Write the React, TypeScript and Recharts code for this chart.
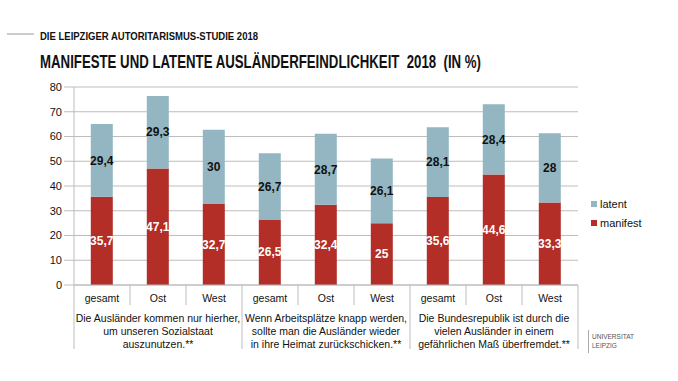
import React from "react";
import { BarChart, Bar, XAxis, YAxis, CartesianGrid, LabelList } from "recharts";

const categories = ["gesamt", "Ost", "West", "gesamt", "Ost", "West", "gesamt", "Ost", "West"];
const manifest = [35.7, 47.1, 32.7, 26.5, 32.4, 25, 35.6, 44.6, 33.3];
const latent = [29.4, 29.3, 30, 26.7, 28.7, 26.1, 28.1, 28.4, 28];
const groupTexts = [
  ["Die Ausländer kommen nur hierher,", "um unseren Sozialstaat", "auszunutzen.**"],
  ["Wenn Arbeitsplätze knapp werden,", "sollte man die Ausländer wieder", "in ihre Heimat zurückschicken.**"],
  ["Die Bundesrepublik ist durch die", "vielen Ausländer in einem", "gefährlichen Maß überfremdet.**"],
];
const yTicks = [0, 10, 20, 30, 40, 50, 60, 70, 80];

const data = categories.map((c, i) => ({ cat: c, manifest: manifest[i], latent: latent[i] }));

const RED = "#B22E27";
const BLUE = "#93B6C2";
const GRID = "#BDBDBD";
const FONT = "'Liberation Sans', Arial, sans-serif";

const fmt = (v: any) => String(v).replace(".", ",");

const CatTick = (props: any) => {
  const { x, y, payload, index } = props;
  const half = payload && payload.offset ? payload.offset : 28;
  const i = index ?? payload.index;
  const els: any[] = [];
  const left = x - half;
  const isGroupStart = i % 3 === 0;
  els.push(
    <line key="l" x1={left} x2={left} y1={y} y2={isGroupStart ? y + 64 : y + 20} stroke={GRID} strokeWidth={1} />
  );
  if (i === categories.length - 1) {
    els.push(<line key="r" x1={x + half} x2={x + half} y1={y} y2={y + 64} stroke={GRID} strokeWidth={1} />);
  }
  els.push(
    <text key="t" x={x} y={y + 17} textAnchor="middle" fontSize={10.5} fill="#111" fontFamily={FONT}>
      {payload.value}
    </text>
  );
  if (i % 3 === 1) {
    const g = groupTexts[Math.floor(i / 3)];
    g.forEach((line, k) => {
      els.push(
        <text key={"g" + k} x={x} y={y + 37 + k * 12.8} textAnchor="middle" fontSize={10.5} fill="#111" fontFamily={FONT}>
          {line}
        </text>
      );
    });
  }
  return <g>{els}</g>;
};

export default function App() {
  return (
    <div style={{ position: "absolute", left: 0, top: 0, width: 678, height: 381, background: "#fff", fontFamily: FONT }}>
      <svg width={678} height={381} style={{ position: "absolute", left: 0, top: 0 }}>
        <line x1={7} x2={34} y1={34} y2={34} stroke="#999" strokeWidth={1} />
        <text x={40} y={40} fontSize={11.5} fontWeight="bold" fill="#111" fontFamily="'Liberation Sans Narrow', 'Liberation Sans', Arial, sans-serif" textLength={218} lengthAdjust="spacingAndGlyphs">
          DIE LEIPZIGER AUTORITARISMUS-STUDIE 2018
        </text>
        <text x={40} y={68} fontSize={18.5} fontWeight="bold" fill="#111" fontFamily="'Liberation Sans Narrow', 'Liberation Sans', Arial, sans-serif" textLength={441} lengthAdjust="spacingAndGlyphs" style={{ whiteSpace: "pre" }}>
          MANIFESTE UND LATENTE AUSLÄNDERFEINDLICHKEIT  2018  (IN %)
        </text>
        <rect x={591} y={201} width={6} height={6} fill={BLUE} />
        <text x={600} y={208} fontSize={11} fill="#111" fontFamily={FONT}>latent</text>
        <rect x={591} y={220} width={6} height={6} fill={RED} />
        <text x={600} y={227} fontSize={11} fill="#111" fontFamily={FONT}>manifest</text>
        <line x1={588.5} x2={588.5} y1={330} y2={353} stroke="#aaa" strokeWidth={1} />
        <text x={592} y={339} fontSize={6.5} fill="#555" fontFamily={FONT}>UNIVERSITAT</text>
        <text x={592} y={348} fontSize={6.5} fill="#555" fontFamily={FONT}>LEIPZIG</text>
      </svg>
      <div style={{ position: "absolute", left: 0, top: 0 }}>
        <BarChart
          width={678}
          height={381}
          data={data}
          margin={{ top: 87, right: 100, bottom: 0, left: 0 }}
          barCategoryGap="30%"
        >
          <CartesianGrid vertical={false} stroke={GRID} strokeWidth={1} />
          <YAxis
            width={74}
            domain={[0, 80]}
            ticks={yTicks}
            interval={0}
            axisLine={{ stroke: GRID }}
            tickLine={{ stroke: GRID }}
            tickSize={10}
            tickMargin={2}
            tick={{ fontSize: 11, fill: "#111", fontFamily: FONT }}
          />
          <XAxis
            dataKey="cat"
            interval={0}
            axisLine={{ stroke: GRID }}
            tickLine={false}
            tickSize={0}
            tickMargin={0}
            tick={<CatTick />}
            height={96}
          />
          <Bar dataKey="manifest" stackId="a" fill={RED} isAnimationActive={false}>
            <LabelList dataKey="manifest" position="center" formatter={fmt} fill="#fff" fontSize={12} fontWeight="bold" fontFamily={FONT} />
          </Bar>
          <Bar dataKey="latent" stackId="a" fill={BLUE} isAnimationActive={false}>
            <LabelList dataKey="latent" position="center" formatter={fmt} fill="#111" fontSize={12} fontWeight="bold" fontFamily={FONT} />
          </Bar>
        </BarChart>
      </div>
    </div>
  );
}
